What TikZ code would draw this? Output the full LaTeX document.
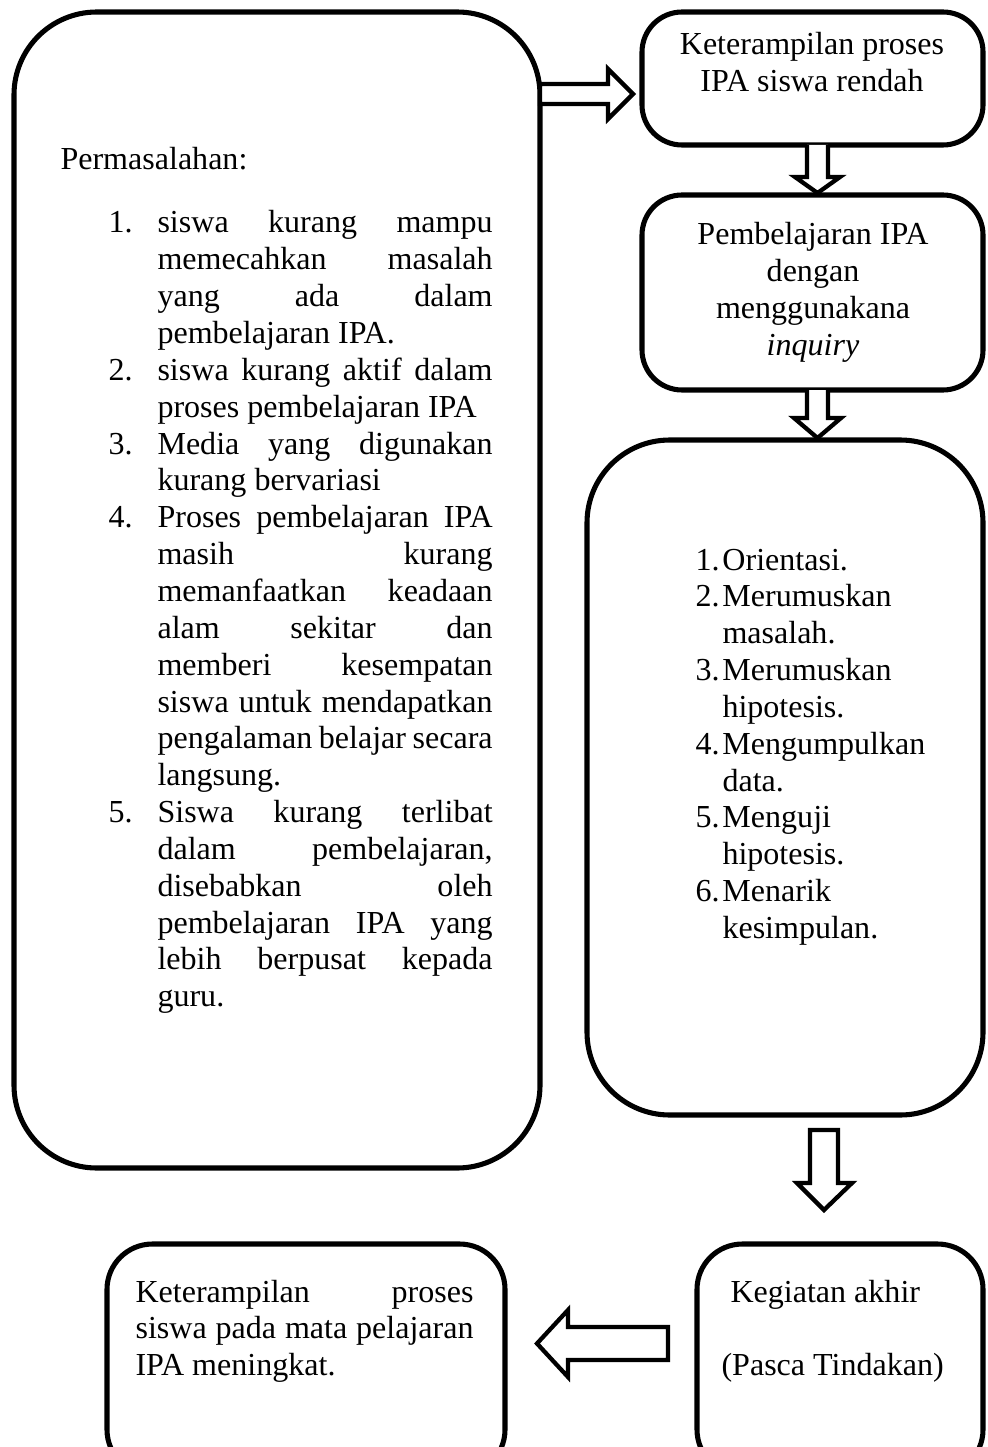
\documentclass[tikz,border=0pt]{standalone}
\usepackage{fontspec}
\setmainfont{Liberation Serif}
\newlength\numw \setlength\numw{18.35pt}
\newlength\txtw \setlength\txtw{125.5pt}
\newlength\numr \setlength\numr{10.1pt}
\newcommand\jline[2]{\makebox[\numw][l]{#1}\makebox[\txtw][s]{#2}}
\newcommand\eline[2]{\makebox[\numw][l]{#1}#2}
\newcommand\rline[2]{\makebox[\numr][l]{#1}#2}
\begin{document}
\begin{tikzpicture}[x=0.3745pt,y=-0.3745pt,
  box/.style={draw=black, line width=1.9pt, rounded corners=#1},
  blockarrow/.style={draw=black, line width=1.6pt, fill=white, miter limit=10},
  txt/.style={inner sep=0pt, font=\fontsize{12}{13.8}\selectfont}]
\useasboundingbox (0,0) rectangle (987,1447);
\clip (0,0) rectangle (987,1447);
% boxes
\draw[box=31pt] (14,12) rectangle (540,1168);
\draw[box=15pt] (642,12) rectangle (983,145);
\draw[box=15pt] (642,195) rectangle (983,390);
\draw[box=31pt] (587,440) rectangle (983,1115);
\draw[box=17pt] (697,1244) rectangle (983,1475);
\draw[box=17pt] (107,1244) rectangle (505,1475);
% block arrows
\draw[blockarrow] (540,84) -- (608,84) -- (608,69) -- (633,94) -- (608,119) -- (608,104) -- (540,104) -- cycle;
\draw[blockarrow] (807,145) -- (807,177) -- (795,177) -- (817.5,193) -- (840,177) -- (828,177) -- (828,145);
\draw[blockarrow] (807,390) -- (807,418) -- (794,418) -- (817.5,438) -- (841,418) -- (828,418) -- (828,390);
\draw[blockarrow] (810,1130) -- (838,1130) -- (838,1183) -- (852,1183) -- (824,1210) -- (797,1183) -- (810,1183) -- cycle;
\draw[blockarrow] (668,1327) -- (568,1327) -- (568,1310) -- (537,1343.5) -- (568,1377) -- (568,1360) -- (668,1360) -- cycle;
% texts
\node[txt, anchor=base west] (perm) at (60,170) {Permasalahan:};
\node[txt, anchor=base west] (plist) at (108,233) {\parbox[t]{\dimexpr\numw+\txtw\relax}{\fontsize{12}{13.8}\selectfont
\jline{1.}{siswa kurang mampu}\\
\jline{}{memecahkan masalah}\\
\jline{}{yang ada dalam}\\
\eline{}{pembelajaran IPA.}\\
\jline{2.}{siswa kurang aktif dalam}\\
\eline{}{proses pembelajaran IPA}\\
\jline{3.}{Media yang digunakan}\\
\eline{}{kurang bervariasi}\\
\jline{4.}{Proses pembelajaran IPA}\\
\jline{}{masih kurang}\\
\jline{}{memanfaatkan keadaan}\\
\jline{}{alam sekitar dan}\\
\jline{}{memberi kesempatan}\\
\jline{}{siswa untuk mendapatkan}\\
\jline{}{pengalaman belajar secara}\\
\eline{}{langsung.}\\
\jline{5.}{Siswa kurang terlibat}\\
\jline{}{dalam pembelajaran,}\\
\jline{}{disebabkan oleh}\\
\jline{}{pembelajaran IPA yang}\\
\jline{}{lebih berpusat kepada}\\
\eline{}{guru.}}};
\node[txt, anchor=base] (t1) at (812,55) {\parbox[t]{125pt}{\centering\fontsize{12}{13.8}\selectfont
Keterampilan proses\\IPA siswa rendah}};
\node[txt, anchor=base] (t2) at (813,245) {\parbox[t]{125pt}{\centering\fontsize{12}{13.8}\selectfont
Pembelajaran IPA\\dengan\\menggunakana\\\textit{inquiry}}};
\node[txt, anchor=base west] (steps) at (695,570) {\parbox[t]{100pt}{\fontsize{12}{13.8}\selectfont
\rline{1.}{Orientasi.}\\
\rline{2.}{Merumuskan}\\
\rline{}{masalah.}\\
\rline{3.}{Merumuskan}\\
\rline{}{hipotesis.}\\
\rline{4.}{Mengumpulkan}\\
\rline{}{data.}\\
\rline{5.}{Menguji}\\
\rline{}{hipotesis.}\\
\rline{6.}{Menarik}\\
\rline{}{kesimpulan.}}};
\node[txt, anchor=base west] (akhir) at (730,1302) {Kegiatan akhir};
\node[txt, anchor=base west] (pasca) at (721,1375) {(Pasca Tindakan)};
\node[txt, anchor=base west] (hasil) at (135,1302) {\parbox[t]{126.6pt}{\fontsize{12}{13.8}\selectfont
\makebox[126.6pt][s]{Keterampilan proses}\\
\makebox[126.6pt][s]{siswa pada mata pelajaran}\\
IPA meningkat.}};
\end{tikzpicture}
\end{document}
